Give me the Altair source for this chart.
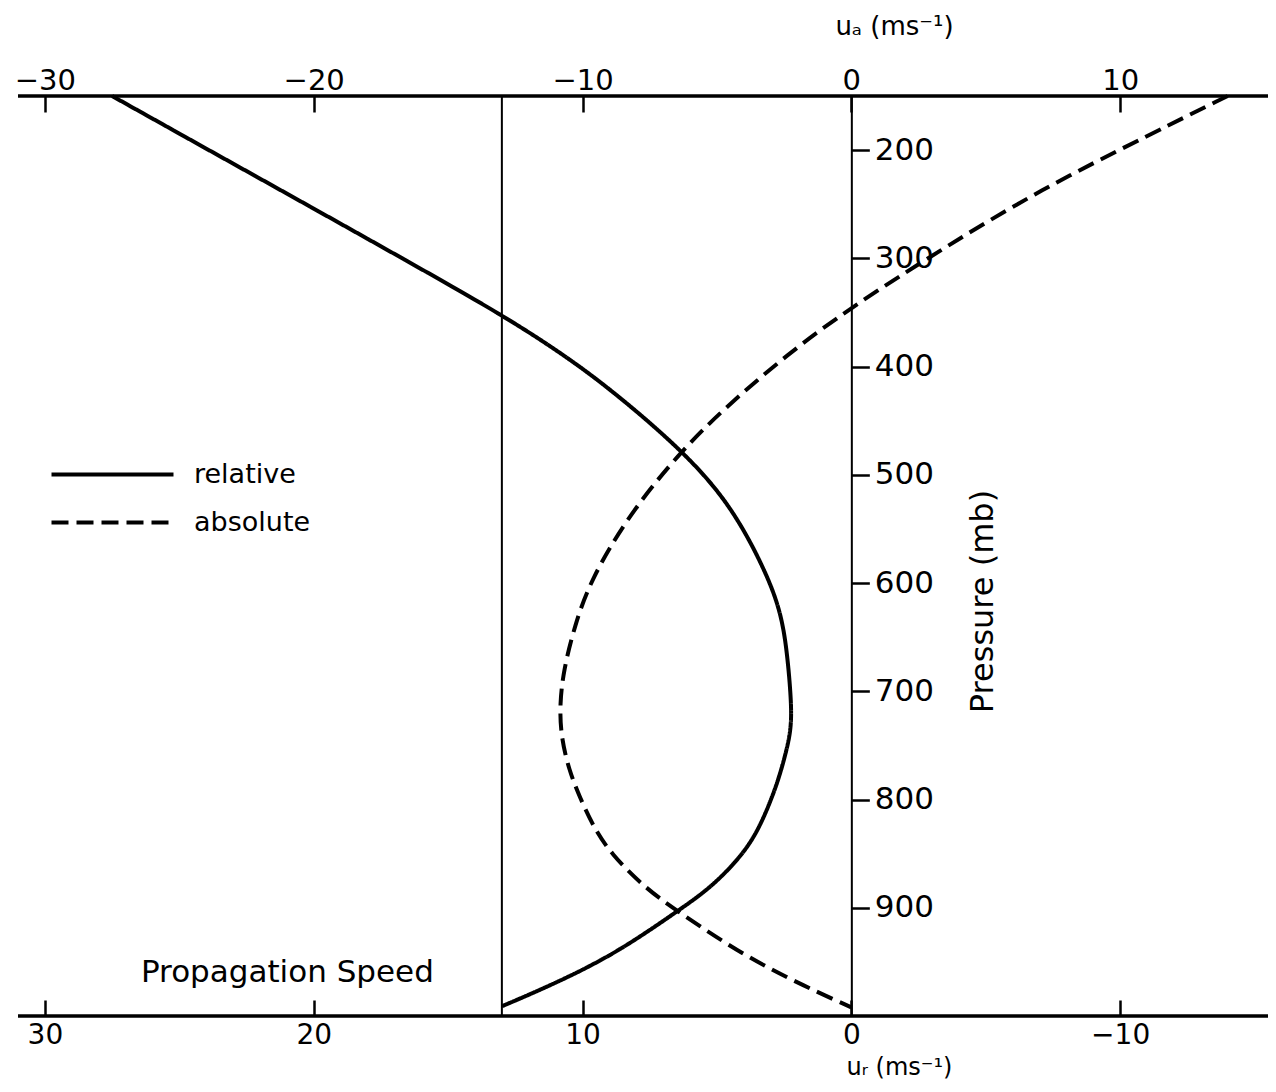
import altair as alt
import pandas as pd

# ---------------- data ----------------
# absolute wind u_a (m/s) vs pressure (mb)  -- dashed curve, top axis
ABS_P = [150, 185, 237, 290, 345, 389, 437, 477, 536, 597, 640, 680, 712, 742,
         773, 798, 825, 850, 881, 902, 945, 973, 992]
ABS_U = [14.0, 11.15, 7.0, 3.46, 0.0, -2.4, -4.65, -6.3, -8.25, -9.7, -10.3, -10.7,
         -10.85, -10.8, -10.5, -10.1, -9.6, -8.95, -7.7, -6.55, -3.95, -1.7, 0.0]

# relative wind u_r (m/s) vs pressure (mb) -- solid curve, bottom axis (reversed)
REL_P = [150, 200, 254, 300, 352, 389, 422, 477, 527, 588, 628, 668, 711, 733,
         752, 779, 798, 825, 850, 881, 902, 943, 972, 991]
REL_U = [27.5, 23.9, 20.0, 16.7, 13.0, 10.7, 8.9, 6.3, 4.5, 3.2, 2.6, 2.37, 2.23,
         2.24, 2.38, 2.68, 2.95, 3.4, 4.0, 5.2, 6.4, 8.8, 11.2, 13.0]

PROP_SPEED = 13.0          # propagation speed (u_r units)
SERIES = ["relative", "absolute"]

X_TICKS = [-30, -20, -10, 0, 10]
P_TICKS = [200, 300, 400, 500, 600, 700, 800, 900]
X_DOMAIN = [-31.0, 15.5]
P_DOMAIN = [150, 1000]

TOP_TITLE = "uₐ (ms⁻¹)"
BOTTOM_TITLE = "uᵣ (ms⁻¹)"
Y_TITLE = "Pressure (mb)"
NOTE = "Propagation Speed"
NOTE_P = 968.5

# ---------------- build table ----------------
df = pd.concat([
    pd.DataFrame({"p": REL_P, "u": REL_U, "series": SERIES[0]}),
    pd.DataFrame({"p": ABS_P, "u": ABS_U, "series": SERIES[1]}),
], ignore_index=True)

W, H = 1250, 920
FONT = "DejaVu Sans"
Y_AXIS_OFFSET = -(X_DOMAIN[1] - 0) / (X_DOMAIN[1] - X_DOMAIN[0]) * W

x_scale = alt.Scale(domain=X_DOMAIN, nice=False, zero=False)
y_scale = alt.Scale(domain=P_DOMAIN, reverse=True, nice=False, zero=False)

top_axis = alt.Axis(
    orient="top", values=X_TICKS, offset=-16, domain=False,
    tickSize=16, tickWidth=2.5, tickColor="black",
    labelFont=FONT, labelFontSize=29, labelColor="black",
    labelPadding=7, labelBaseline="alphabetic",
    title=TOP_TITLE, titleFont=FONT, titleFontSize=26, titleFontWeight="normal",
    titleColor="black", titleX=876, titleY=-78, titleAlign="center",
    titleBaseline="alphabetic", grid=False,
)

bottom_axis = alt.Axis(
    orient="bottom", values=X_TICKS, offset=-16, domain=False,
    tickSize=16, tickWidth=2.5, tickColor="black",
    labelExpr="datum.value == 0 ? '0' : format(-datum.value, 'd')",
    labelFont=FONT, labelFontSize=28, labelColor="black",
    labelPadding=5, labelBaseline="top",
    title=BOTTOM_TITLE, titleFont=FONT, titleFontSize=24, titleFontWeight="normal",
    titleColor="black", titleX=881, titleY=74, titleAlign="center",
    titleBaseline="alphabetic", grid=False,
)

y_axis = alt.Axis(
    orient="right", values=P_TICKS, offset=Y_AXIS_OFFSET,
    domain=True, domainColor="black", domainWidth=2,
    tickSize=18, tickWidth=2.5, tickColor="black",
    labelFont=FONT, labelFontSize=31, labelColor="black", labelPadding=5,
    labelBaseline="middle",
    title=Y_TITLE, titleFont=FONT, titleFontSize=32, titleFontWeight="normal",
    titleColor="black", titleAngle=270, titleX=131, titleY=505,
    titleAlign="center", titleBaseline="middle", grid=False,
)

frame = alt.Chart(pd.DataFrame({"p": P_DOMAIN})).mark_rule(
    color="black", strokeWidth=3.5
).encode(
    y=alt.Y("p:Q", scale=y_scale, axis=y_axis),
)

curves = alt.Chart(df).mark_line(color="black", strokeWidth=4, interpolate="basis").encode(
    x=alt.X("u:Q", scale=x_scale, axis=top_axis),
    y=alt.Y("p:Q", scale=y_scale, axis=y_axis),
    order=alt.Order("p:Q"),
    strokeDash=alt.StrokeDash(
        "series:N",
        scale=alt.Scale(domain=SERIES, range=[[1, 0], [17, 8]]),
        legend=alt.Legend(
            orient="none", legendX=81, legendY=365, title=None, padding=0,
            symbolType="M-6.1,0H6.1", symbolSize=400, symbolStrokeWidth=4,
            symbolStrokeColor="black", labelFont=FONT, labelFontSize=27,
            labelColor="black", labelOffset=68, rowPadding=20,
        ),
    ),
).transform_calculate(
    u="datum.series == 'relative' ? -datum.u : datum.u"
)

# propagation-speed line, carrying the bottom (u_r) axis
prop = alt.Chart(pd.DataFrame({"v": [PROP_SPEED]})).mark_rule(
    color="black", strokeWidth=2
).encode(
    x=alt.X("xv:Q", scale=x_scale, axis=bottom_axis),
).transform_calculate(xv="-datum.v")

note = alt.Chart(pd.DataFrame({"v": [PROP_SPEED], "t": [NOTE], "p": [NOTE_P]})).mark_text(
    align="right", baseline="alphabetic", dx=-68, font=FONT, fontSize=31, color="black"
).encode(
    x=alt.X("xv:Q", scale=x_scale, axis=None),
    y=alt.Y("p:Q", scale=y_scale, axis=y_axis),
    text="t:N",
).transform_calculate(xv="-datum.v")

chart = alt.layer(frame, curves, prop, note).resolve_axis(x="independent").properties(
    width=W, height=H, autosize=alt.AutoSizeParams(type="none"),
    padding={"left": 10, "top": 88, "right": 0, "bottom": 63},
    background="white",
).configure_view(stroke=None)

chart.save("out.html", embed_options={"renderer": "svg", "actions": False})
